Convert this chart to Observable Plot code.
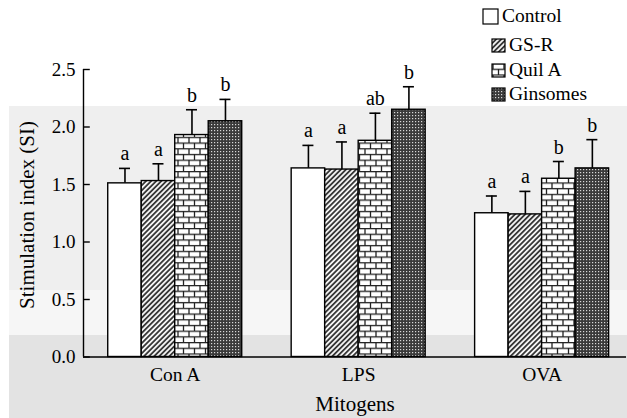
<!DOCTYPE html>
<html>
<head>
<meta charset="utf-8">
<script src="https://cdn.jsdelivr.net/npm/d3@7"></script>
<script src="https://cdn.jsdelivr.net/npm/@observablehq/plot@0.6"></script>
<style>
  html, body { margin: 0; padding: 0; background: white; }
  #wrap { position: relative; width: 627px; height: 418px; overflow: hidden; font-family: "Liberation Serif", "Times New Roman", serif; color: #000; }
  .bg { position: absolute; left: 9px; width: 618px; }
  #chart { position: absolute; left: 0; top: 0; }
  .leg { position: absolute; font-size: 19.5px; line-height: 20px; white-space: nowrap; color: #000; }
  #ylabel { position: absolute; left: 27px; top: 215px; font-size: 21px; white-space: nowrap; line-height: 1; transform: translate(-50%, -50%) rotate(-90deg); }
</style>
</head>
<body>
<svg width="0" height="0" style="position:absolute">
  <defs>
    <pattern id="pDiag" width="3.6" height="3.6" patternUnits="userSpaceOnUse" patternTransform="rotate(45)">
      <rect width="3.6" height="3.6" fill="#f4f4f4"></rect>
      <line x1="0.9" y1="0" x2="0.9" y2="3.6" stroke="#111" stroke-width="1.5"></line>
    </pattern>
    <pattern id="pBrick" width="11" height="11.4" patternUnits="userSpaceOnUse">
      <rect width="11" height="11.4" fill="#ffffff"></rect>
      <line x1="0" y1="0.6" x2="11" y2="0.6" stroke="#222" stroke-width="1.3"></line>
      <line x1="0" y1="6.3" x2="11" y2="6.3" stroke="#222" stroke-width="1.3"></line>
      <line x1="2" y1="0.6" x2="2" y2="6.3" stroke="#222" stroke-width="1.3"></line>
      <line x1="7.5" y1="6.3" x2="7.5" y2="11.4" stroke="#222" stroke-width="1.3"></line>
    </pattern>
    <pattern id="pDots" width="3" height="3" patternUnits="userSpaceOnUse">
      <rect width="3" height="3" fill="#3a3a3a"></rect>
      <rect x="1" y="1" width="1.2" height="1.2" fill="#d8d8d8"></rect>
    </pattern>
  </defs>
</svg>
<div id="wrap">
  <div class="bg" style="top:106px;height:184px;background:#efefef"></div>
  <div class="bg" style="top:290px;height:45px;background:#f6f6f6"></div>
  <div class="bg" style="top:335px;height:83px;background:#e3e3e3"></div>
  <div id="chart"></div>
  <div id="ylabel">Stimulation index (SI)</div>
  <div id="legend"></div>
</div>
<script>
// ---- data ----
const groups = ["Con A", "LPS", "OVA"];
const series = ["Control", "GS-R", "Quil A", "Ginsomes"];
const controlMean  = [1.51, 1.64, 1.25];
const gsrMean      = [1.53, 1.63, 1.24];
const quilMean     = [1.93, 1.88, 1.55];
const ginsomesMean = [2.05, 2.15, 1.64];
const controlErr   = [0.13, 0.20, 0.15];
const gsrErr       = [0.15, 0.24, 0.20];
const quilErr      = [0.22, 0.24, 0.15];
const ginsomesErr  = [0.19, 0.20, 0.25];
const controlSig   = ["a", "a", "a"];
const gsrSig       = ["a", "a", "a"];
const quilSig      = ["b", "ab", "b"];
const ginsomesSig  = ["b", "b", "b"];
const yTicks = [0, 0.5, 1.0, 1.5, 2.0, 2.5];

const means = [controlMean, gsrMean, quilMean, ginsomesMean];
const errs = [controlErr, gsrErr, quilErr, ginsomesErr];
const sigs = [controlSig, gsrSig, quilSig, ginsomesSig];
const fills = ["#ffffff", "url(#pDiag)", "url(#pBrick)", "url(#pDots)"];

// bar width in x-scale units (one unit = one group step)
const bw = 0.1826;
const rows = [];
groups.forEach((g, gi) => {
  series.forEach((s, si) => {
    const x1 = gi + 0.5 + (si - 2) * bw;
    rows.push({group: g, series: s, si, x1, x2: x1 + bw, xc: x1 + bw / 2,
      mean: means[si][gi], top: means[si][gi] + errs[si][gi], sig: sigs[si][gi]});
  });
});
const capHalf = 0.03;

const barMarks = series.map((s, si) =>
  Plot.rect(rows.filter(d => d.si === si), {
    x1: "x1", x2: "x2", y1: 0, y2: "mean",
    fill: fills[si], stroke: "#000", strokeWidth: 1.4
  })
);

const plot = Plot.plot({
  width: 627,
  height: 418,
  marginLeft: 83,
  marginRight: 1,
  marginTop: 69,
  marginBottom: 61.5,
  style: {fontFamily: "'Liberation Serif', 'Times New Roman', serif", fontSize: "19px", background: "transparent", color: "#000"},
  x: {domain: [0, 2.96], axis: null},
  y: {domain: [0, 2.5], axis: null},
  marks: [
    Plot.ruleX(rows, {x: "xc", y1: "mean", y2: "top", stroke: "#000", strokeWidth: 1.6}),
    Plot.ruleY(rows, {y: "top", x1: d => d.xc - capHalf, x2: d => d.xc + capHalf, stroke: "#000", strokeWidth: 1.6}),
    ...barMarks,
    Plot.text(rows, {x: "xc", y: "top", text: "sig", dy: -8, lineAnchor: "bottom", fontSize: 20}),
    Plot.ruleY([0], {stroke: "#000", strokeWidth: 1.4}),
    Plot.ruleX([0], {y1: 0, y2: 2.5, stroke: "#000", strokeWidth: 1.4}),
    Plot.ruleY(yTicks, {y: d => d, x1: 0, x2: 0.037, stroke: "#000", strokeWidth: 1.4}),
    Plot.axisY({ticks: yTicks, tickSize: 0, tickPadding: 8, tickFormat: d3.format(".1f"), label: null, fontSize: 19}),
    Plot.axisX({ticks: [0.5, 1.5, 2.5], tickFormat: d => groups[Math.floor(d)], tickSize: 0, tickPadding: 10, label: null, fontSize: 19.5}),
    Plot.text(["Mitogens"], {frameAnchor: "bottom", dy: 47, lineAnchor: "middle", fontSize: 21})
  ]
});
document.getElementById("chart").appendChild(plot);

// ---- legend ----
const legend = document.getElementById("legend");
const legItems = [
  {top: 16, box: 15, bx: 483, tx: 502},
  {top: 45, box: 13, bx: 492, tx: 509},
  {top: 70, box: 13, bx: 492, tx: 509},
  {top: 94, box: 13, bx: 492, tx: 509}
];
series.forEach((s, i) => {
  const it = legItems[i];
  const sw = document.createElementNS("http://www.w3.org/2000/svg", "svg");
  sw.setAttribute("width", it.box + 2);
  sw.setAttribute("height", it.box + 2);
  sw.style.position = "absolute";
  sw.style.left = (it.bx - 1) + "px";
  sw.style.top = (it.top - it.box / 2 - 1) + "px";
  const r = document.createElementNS("http://www.w3.org/2000/svg", "rect");
  r.setAttribute("x", 1); r.setAttribute("y", 1);
  r.setAttribute("width", it.box); r.setAttribute("height", it.box);
  r.setAttribute("fill", fills[i]); r.setAttribute("stroke", "#000"); r.setAttribute("stroke-width", 1.2);
  sw.appendChild(r);
  legend.appendChild(sw);
  const t = document.createElement("div");
  t.className = "leg";
  t.textContent = s;
  t.style.left = it.tx + "px";
  t.style.top = (it.top - 10) + "px";
  legend.appendChild(t);
});
</script>
</body>
</html>
